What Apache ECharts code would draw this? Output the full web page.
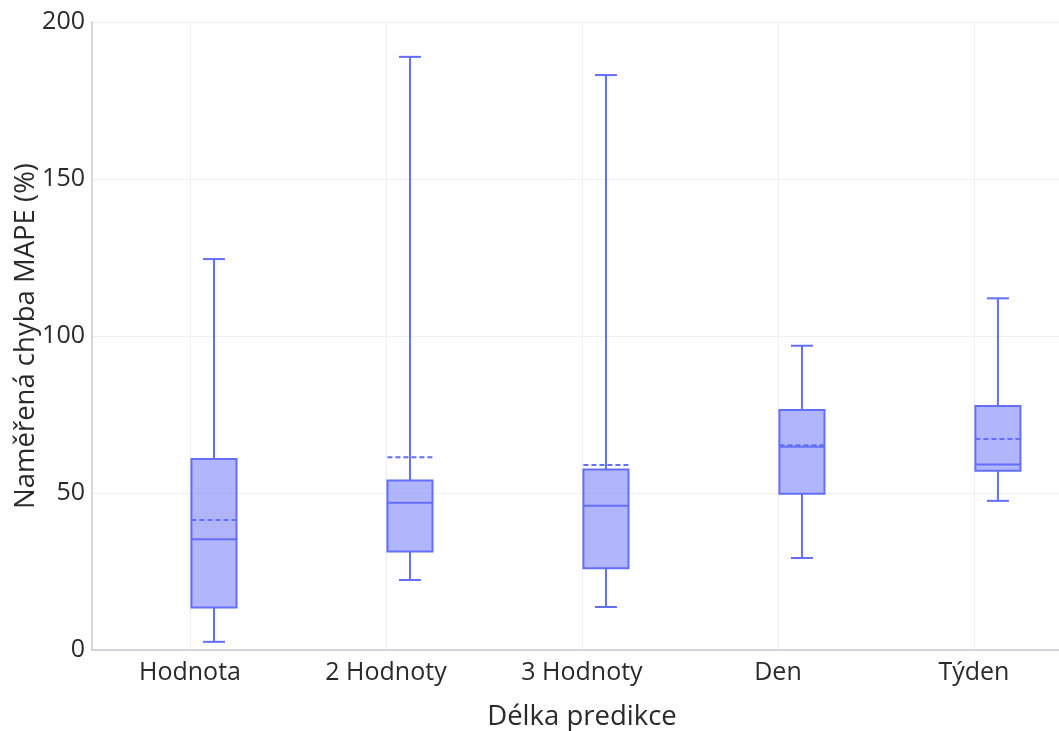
<!DOCTYPE html>
<html>
<head>
<meta charset="utf-8">
<script src="https://cdn.jsdelivr.net/npm/echarts@6/dist/echarts.min.js"></script>
<style>html,body{margin:0;padding:0;background:#fff}#c{width:1059px;height:731px}</style>
</head>
<body>
<div id="c"></div>
<script>
const categories = ['Hodnota', '2 Hodnoty', '3 Hodnoty', 'Den', 'Týden'];
const lowerWhisker = [2.6, 22.3, 13.7, 29.3, 47.5];
const q1 = [13.5, 31.4, 26.0, 49.8, 57.1];
const median = [35.3, 46.9, 45.9, 64.7, 59.1];
const q3 = [60.8, 54.0, 57.5, 76.4, 77.7];
const upperWhisker = [124.5, 188.9, 183.1, 96.9, 112.0];
const means = [41.4, 61.4, 58.9, 65.2, 67.2];
const yTicks = [0, 50, 100, 150, 200];

const COLOR = '#636efa';
const FILL = 'rgba(99,110,250,0.5)';
const OFFSET = 0.1224;   // box offset within category band
const HALF_BOX = 0.115;  // fraction of band
const HALF_CAP = 0.056;

const data = categories.map((c, i) => [i, lowerWhisker[i], q1[i], median[i], q3[i], upperWhisker[i], means[i]]);

function renderItem(params, api) {
  const x = api.value(0) + OFFSET;
  const band = api.size([1, 0])[0];
  const hb = band * HALF_BOX, hc = band * HALF_CAP;
  const pLow = api.coord([x, api.value(1)]);
  const pQ1 = api.coord([x, api.value(2)]);
  const pMed = api.coord([x, api.value(3)]);
  const pQ3 = api.coord([x, api.value(4)]);
  const pHigh = api.coord([x, api.value(5)]);
  const pMean = api.coord([x, api.value(6)]);
  const cx = pQ1[0];
  const line = {stroke: COLOR, lineWidth: 2, fill: null};
  return {
    type: 'group',
    children: [
      {type: 'line', shape: {x1: cx, y1: pQ3[1], x2: cx, y2: pHigh[1]}, style: line},
      {type: 'line', shape: {x1: cx, y1: pQ1[1], x2: cx, y2: pLow[1]}, style: line},
      {type: 'line', shape: {x1: cx - hc, y1: pHigh[1], x2: cx + hc, y2: pHigh[1]}, style: line},
      {type: 'line', shape: {x1: cx - hc, y1: pLow[1], x2: cx + hc, y2: pLow[1]}, style: line},
      {type: 'rect', shape: {x: cx - hb, y: pQ3[1], width: 2 * hb, height: pQ1[1] - pQ3[1]}, style: {fill: FILL, stroke: COLOR, lineWidth: 2}},
      {type: 'line', shape: {x1: cx - hb, y1: pMed[1], x2: cx + hb, y2: pMed[1]}, style: line},
      {type: 'line', shape: {x1: cx - hb, y1: pMean[1], x2: cx + hb, y2: pMean[1]}, style: {stroke: COLOR, lineWidth: 2, fill: null, lineDash: [5, 3]}}
    ]
  };
}

const chart = echarts.init(document.getElementById('c'), null, {renderer: 'canvas'});
const font = 'Open Sans';
const TXT = '#2a2a2a';
chart.setOption({
  animation: false,
  backgroundColor: '#fff',
  textStyle: {fontFamily: font},
  grid: {left: 92, right: 0, top: 22, bottom: 81, containLabel: false, outerBoundsMode: 'none'},
  xAxis: {
    type: 'value',
    min: -0.5,
    max: 4.434,
    name: 'Délka predikce',
    nameLocation: 'middle',
    nameGap: 53,
    nameMoveOverlap: false,
    nameTextStyle: {fontSize: 27.5, color: TXT, fontFamily: font, padding: [0, 0, 0, 13]},
    axisLine: {show: true, onZero: false, lineStyle: {color: '#c4cad6', width: 1.5}},
    axisTick: {show: false, customValues: [0, 1, 2, 3, 4]},
    axisLabel: {
      customValues: [0, 1, 2, 3, 4],
      formatter: v => categories[Math.round(v)] || '',
      fontSize: 25, color: TXT, margin: 10, fontFamily: font
    },
    splitLine: {show: true, lineStyle: {color: '#eef0f7', width: 1}}
  },
  yAxis: {
    type: 'value',
    min: yTicks[0],
    max: yTicks[yTicks.length - 1],
    interval: 50,
    name: 'Naměřená chyba MAPE (%)',
    nameLocation: 'middle',
    nameGap: 52,
    nameRotate: 90,
    nameMoveOverlap: false,
    nameTextStyle: {fontSize: 27.5, color: TXT, fontFamily: font},
    axisLine: {show: true, onZero: false, lineStyle: {color: '#c4cad6', width: 1.5}},
    axisTick: {show: false},
    axisLabel: {fontSize: 25, color: TXT, margin: 7, fontFamily: font},
    splitLine: {show: true, lineStyle: {color: '#eef0f7', width: 1}}
  },
  series: [{
    type: 'custom',
    renderItem: renderItem,
    data: data,
    encode: {x: 0, y: [1, 2, 3, 4, 5, 6]},
    clip: false
  }]
});
</script>
</body>
</html>
